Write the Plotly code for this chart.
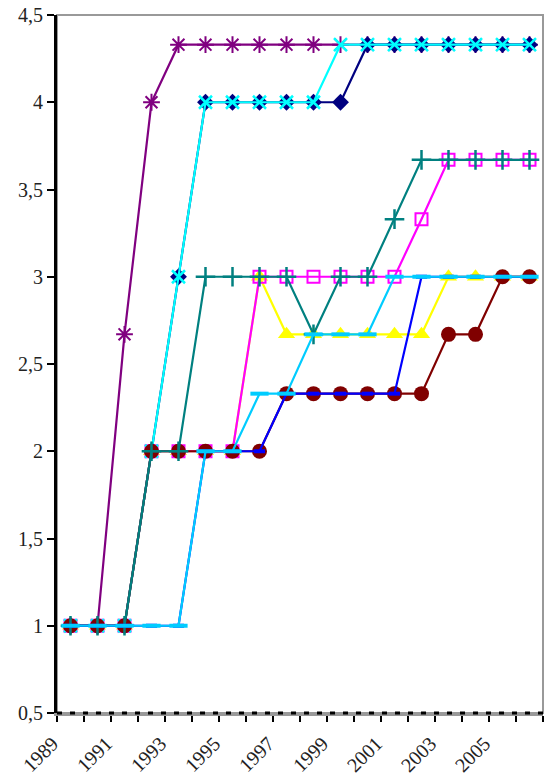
import plotly.graph_objects as go

# ----------------------------- data -----------------------------#
years = ['1989', '1990', '1991', '1992', '1993', '1994', '1995', '1996', '1997',
         '1998', '1999', '2000', '2001', '2002', '2003', '2004', '2005', '2006']
year_labels = ['1989', '', '1991', '', '1993', '', '1995', '', '1997',
               '', '1999', '', '2001', '', '2003', '', '2005', '']

yellow  = [1, 1, 1, 2, 2, 2, 2, 3, 2.67, 2.67, 2.67, 2.67, 2.67, 2.67, 3, 3, 3, 3]
magenta = [1, 1, 1, 2, 2, 2, 2, 3, 3, 3, 3, 3, 3, 3.33, 3.67, 3.67, 3.67, 3.67]
purple  = [1, 1, 2.67, 4, 4.33, 4.33, 4.33, 4.33, 4.33, 4.33, 4.33, 4.33, 4.33,
           4.33, 4.33, 4.33, 4.33, 4.33]
navy    = [1, 1, 1, 2, 3, 4, 4, 4, 4, 4, 4, 4.33, 4.33, 4.33, 4.33, 4.33, 4.33, 4.33]
cyan    = [1, 1, 1, 2, 3, 4, 4, 4, 4, 4, 4.33, 4.33, 4.33, 4.33, 4.33, 4.33, 4.33, 4.33]
darkred = [1, 1, 1, 2, 2, 2, 2, 2, 2.33, 2.33, 2.33, 2.33, 2.33, 2.33, 2.67, 2.67, 3, 3]
teal    = [1, 1, 1, 2, 2, 3, 3, 3, 3, 2.67, 3, 3, 3.33, 3.67, 3.67, 3.67, 3.67, 3.67]
blue    = [1, 1, 1, 1, 1, 2, 2, 2, 2.33, 2.33, 2.33, 2.33, 2.33, 3, 3, 3, 3, 3]
skyblue = [1, 1, 1, 1, 1, 2, 2, 2.33, 2.33, 2.67, 2.67, 2.67, 3, 3, 3, 3, 3, 3]

y_ticks = [0.5, 1, 1.5, 2, 2.5, 3, 3.5, 4, 4.5]
y_ticktext = ['0,5', '1', '1,5', '2', '2,5', '3', '3,5', '4', '4,5']

# (values, colour, symbol, size, marker line width) -- bottom to top
series = [
    (yellow,  '#FFFF00', 'triangle-up',      15, 0),
    (magenta, '#FF00FF', 'square-open',      12, 2),
    (purple,  '#800080', 'asterisk-open',    14, 2),
    (navy,    '#000080', 'diamond',          13, 0),
    (cyan,    '#00FFFF', 'x-thin-open',      13, 2.5),
    (darkred, '#800000', 'circle',           15, 0),
    (teal,    '#008080', 'cross-thin-open',  14, 2.5),
    (blue,    '#0000FF', 'line-ew-open',      8, 4),
    (skyblue, '#00CCFF', 'line-ew-open',     13, 4),
]

fig = go.Figure()
for vals, col, sym, size, lw in series:
    fig.add_trace(go.Scatter(
        x=years, y=vals, mode='lines+markers',
        line=dict(color=col, width=2.2),
        marker=dict(symbol=sym, size=size, color=col,
                    line=dict(color=col, width=lw)),
        showlegend=False, cliponaxis=False,
    ))

# grey plot-area border
fig.add_shape(type='rect', xref='paper', yref='paper', x0=0, x1=1, y0=0, y1=1,
              line=dict(color='#999999', width=2), layer='below')
# dashed black line along the category axis
fig.add_shape(type='line', xref='paper', yref='paper', x0=0, x1=1, y0=0, y1=0,
              line=dict(color='black', width=3, dash='5px,8px'))

serif = 'Liberation Serif'
fig.update_layout(
    width=545, height=780,
    margin=dict(l=57, r=2, t=15, b=67),
    plot_bgcolor='white', paper_bgcolor='white',
    font=dict(family=serif, size=20, color='#222222'),
)

fig.update_xaxes(type='category', range=[-0.5, 17.5], automargin=False,
                 tickvals=years, ticktext=year_labels, tickangle=-45,
                 tickfont=dict(family=serif, size=20, color='#222222'),
                 ticklabelstandoff=8, ticklabelshift=-18,
                 tickson='boundaries', ticks='outside', ticklen=6, tickwidth=2,
                 tickcolor='black', showline=True, linecolor='#999999', linewidth=3,
                 showgrid=False, zeroline=False)

fig.update_yaxes(range=[0.5, 4.5], tickvals=y_ticks, ticktext=y_ticktext,
                 automargin=False,
                 tickfont=dict(family=serif, size=20, color='#222222'),
                 ticks='outside', ticklen=7, tickwidth=2, tickcolor='black',
                 showline=True, linecolor='black', linewidth=3,
                 showgrid=False, zeroline=False)

fig.write_html("out.html", config={'displayModeBar': False},
               post_script="document.body.style.margin = '0';")
